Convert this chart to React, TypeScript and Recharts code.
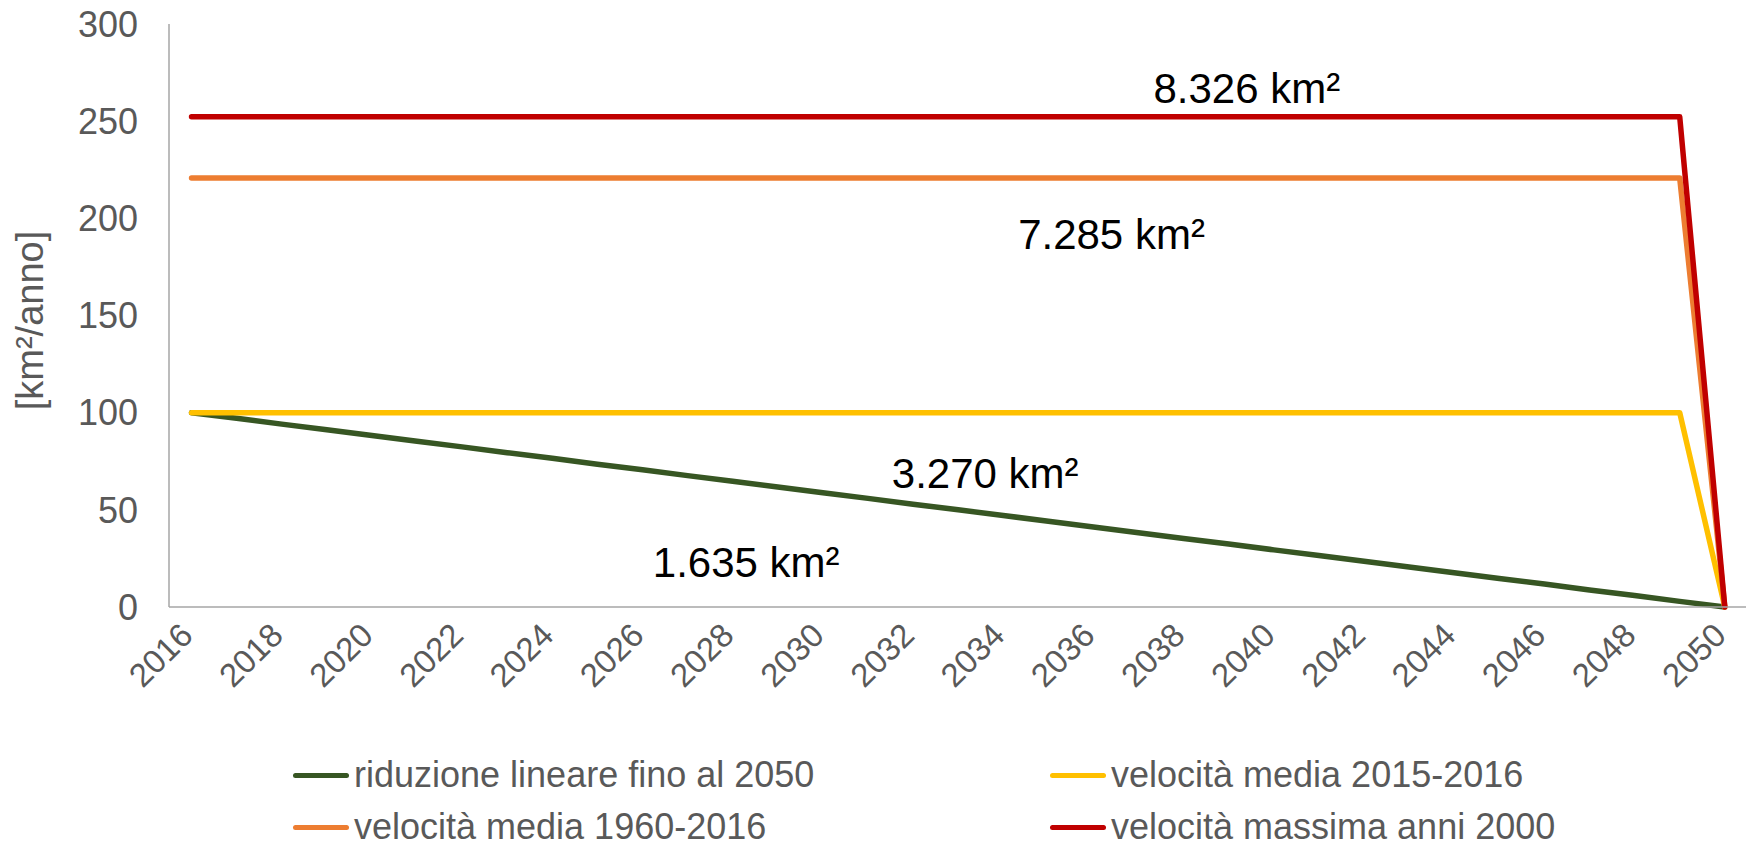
import { LineChart, Line, XAxis, YAxis, ReferenceDot } from 'recharts'

const years = [
    2016, 2017, 2018, 2019, 2020, 2021, 2022, 2023, 2024, 2025, 2026, 2027,
    2028, 2029, 2030, 2031, 2032, 2033, 2034, 2035, 2036, 2037, 2038, 2039,
    2040, 2041, 2042, 2043, 2044, 2045, 2046, 2047, 2048, 2049, 2050,
]

// riduzione lineare fino al 2050
const riduzione = [
    100, 97.1, 94.1, 91.2, 88.2, 85.3, 82.4, 79.4, 76.5, 73.5, 70.6, 67.6,
    64.7, 61.8, 58.8, 55.9, 52.9, 50, 47.1, 44.1, 41.2, 38.2, 35.3, 32.4,
    29.4, 26.5, 23.5, 20.6, 17.6, 14.7, 11.8, 8.8, 5.9, 2.9, 0,
]

// velocità media 2015-2016
const media1516 = [
    100, 100, 100, 100, 100, 100, 100, 100, 100, 100, 100, 100,
    100, 100, 100, 100, 100, 100, 100, 100, 100, 100, 100, 100,
    100, 100, 100, 100, 100, 100, 100, 100, 100, 100, 0,
]

// velocità media 1960-2016
const media6016 = [
    220.8, 220.8, 220.8, 220.8, 220.8, 220.8, 220.8, 220.8, 220.8, 220.8, 220.8, 220.8,
    220.8, 220.8, 220.8, 220.8, 220.8, 220.8, 220.8, 220.8, 220.8, 220.8, 220.8, 220.8,
    220.8, 220.8, 220.8, 220.8, 220.8, 220.8, 220.8, 220.8, 220.8, 220.8, 0,
]

// velocità massima anni 2000
const massima = [
    252.3, 252.3, 252.3, 252.3, 252.3, 252.3, 252.3, 252.3, 252.3, 252.3, 252.3, 252.3,
    252.3, 252.3, 252.3, 252.3, 252.3, 252.3, 252.3, 252.3, 252.3, 252.3, 252.3, 252.3,
    252.3, 252.3, 252.3, 252.3, 252.3, 252.3, 252.3, 252.3, 252.3, 252.3, 0,
]

const xTicks = [2016, 2018, 2020, 2022, 2024, 2026, 2028, 2030, 2032, 2034, 2036, 2038, 2040, 2042, 2044, 2046, 2048, 2050]
const yTicks = [0, 50, 100, 150, 200, 250, 300]

// area totals written on the chart: [text, year, value]
const areaLabels: [string, number, number][] = [
    ['8.326 km²', 2039.4, 267],
    ['7.285 km²', 2036.4, 192],
    ['3.270 km²', 2033.6, 69],
    ['1.635 km²', 2028.3, 23.3],
]

const series = [
    { key: 'riduzione', name: 'riduzione lineare fino al 2050', color: '#375623' },
    { key: 'media1516', name: 'velocità media 2015-2016', color: '#FFC000' },
    { key: 'media6016', name: 'velocità media 1960-2016', color: '#ED7D31' },
    { key: 'massima', name: 'velocità massima anni 2000', color: '#C00000' },
]

const data = years.map((year, i) => ({
    year,
    riduzione: riduzione[i],
    media1516: media1516[i],
    media6016: media6016[i],
    massima: massima[i],
}))

const FONT = '"Liberation Sans", Arial, sans-serif'
const GREY = '#595959'

function YearTick({ x, y, payload }: any) {
    const tx = x - 5
    return (
        <text
            x={tx}
            y={y}
            transform={`rotate(-45 ${tx} ${y})`}
            textAnchor="end"
            dy="0.35em"
            fill={GREY}
            fontSize={33}
            fontFamily={FONT}
        >
            {payload.value}
        </text>
    )
}

function AxisTitle({ viewBox }: any) {
    const cx = 30
    const cy = viewBox.y + viewBox.height / 2 + 5
    return (
        <text
            x={cx}
            y={cy}
            transform={`rotate(-90 ${cx} ${cy})`}
            textAnchor="middle"
            dy="0.35em"
            fill={GREY}
            fontSize={38}
            fontFamily={FONT}
        >
            [km²/anno]
        </text>
    )
}

const legendSlots = [
    { left: 293, top: 757 },
    { left: 1050, top: 757 },
    { left: 293, top: 809 },
    { left: 1050, top: 809 },
]

function ChartLegend() {
    return (
        <>
            {series.map((s, i) => (
                <div
                    key={s.key}
                    style={{
                        position: 'absolute',
                        left: legendSlots[i].left,
                        top: legendSlots[i].top,
                        height: 36,
                        display: 'flex',
                        alignItems: 'center',
                    }}
                >
                    <span style={{ width: 56, height: 5, borderRadius: 3, background: s.color, marginRight: 5 }} />
                    <span style={{ color: GREY, fontSize: 36, lineHeight: '36px', fontFamily: FONT, whiteSpace: 'nowrap' }}>
                        {s.name}
                    </span>
                </div>
            ))}
        </>
    )
}

export default function App() {
    return (
        <div style={{ position: 'absolute', left: 0, top: 0, width: 1746, height: 846, background: '#fff', overflow: 'hidden' }}>
            <style>{'body{margin:0;overflow:hidden}'}</style>
            <LineChart width={1746} height={846} data={data} margin={{ top: 24, right: 0, bottom: 139, left: 0 }}>
                <XAxis
                    dataKey="year"
                    type="number"
                    domain={[2015.5, 2050.47]}
                    ticks={xTicks}
                    allowDataOverflow
                    height={100}
                    tickLine={false}
                    tickSize={0}
                    tickMargin={22}
                    axisLine={{ stroke: '#A6A6A6', strokeWidth: 1.5 }}
                    tick={<YearTick />}
                    interval={0}
                />
                <YAxis
                    domain={[0, 300]}
                    ticks={yTicks}
                    width={169}
                    tickLine={false}
                    tickSize={0}
                    tickMargin={31}
                    axisLine={{ stroke: '#A6A6A6', strokeWidth: 1.5 }}
                    tick={{ fill: GREY, fontSize: 36, fontFamily: FONT }}
                    label={<AxisTitle />}
                />
                {series.map((s) => (
                    <Line
                        key={s.key}
                        dataKey={s.key}
                        name={s.name}
                        stroke={s.color}
                        strokeWidth={5.5}
                        strokeLinecap="round"
                        strokeLinejoin="round"
                        dot={false}
                        activeDot={false}
                        isAnimationActive={false}
                    />
                ))}
                {areaLabels.map(([text, x, y]) => (
                    <ReferenceDot
                        key={text}
                        x={x}
                        y={y}
                        r={0}
                        fill="none"
                        stroke="none"
                        label={{ value: text, position: 'center', fill: '#000', fontSize: 42, fontFamily: FONT }}
                    />
                ))}
            </LineChart>
            <ChartLegend />
        </div>
    )
}
